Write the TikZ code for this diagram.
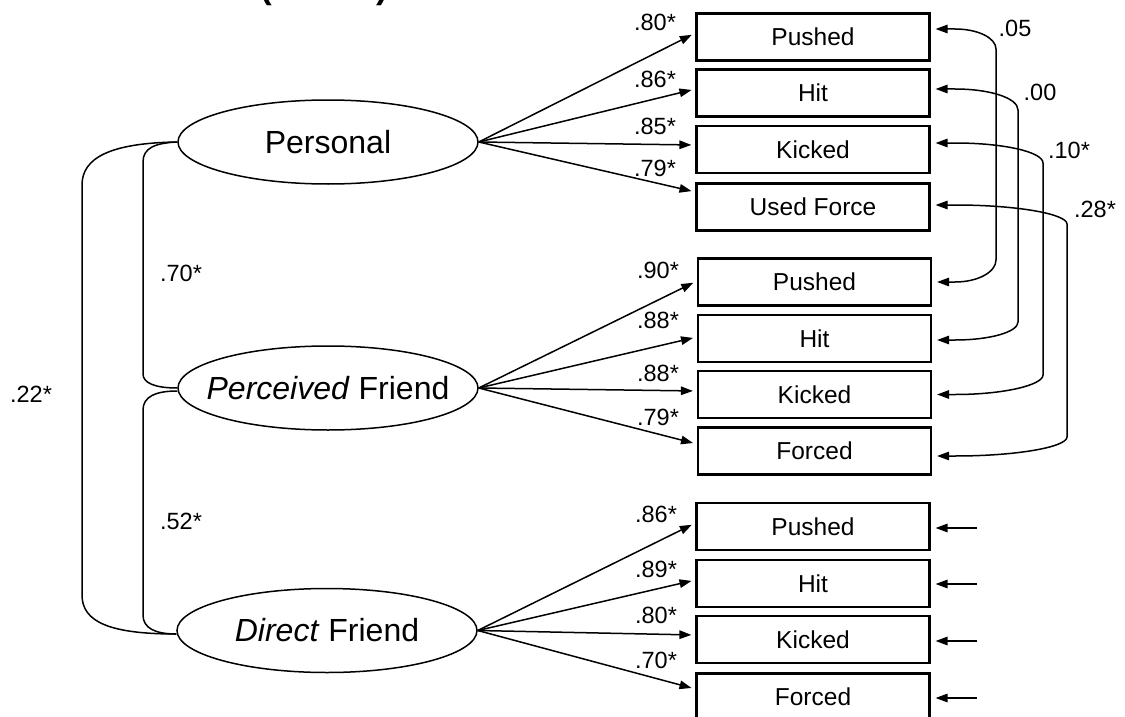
\documentclass[tikz,border=0pt]{standalone}
\usepackage{fontspec}
\setmainfont{Liberation Sans}
\usetikzlibrary{arrows.meta,shapes.geometric,calc}
\begin{document}
\begin{tikzpicture}[x=1pt,y=-1pt,
  lat/.style={ellipse,draw,line width=1.5pt,minimum width=300pt,minimum height=84pt,inner sep=0pt,font=\fontsize{32}{36}\selectfont},
  obs/.style={rectangle,draw,line width=2.2pt,minimum width=233pt,minimum height=47pt,inner sep=0pt,font=\fontsize{24.5}{28}\selectfont},
  lbl/.style={inner sep=0pt,font=\fontsize{23.5}{26}\selectfont},
  arr/.style={line width=1.5pt,-{Triangle[length=12pt,width=8.5pt]},shorten >=4pt},
  cov/.style={line width=1.5pt},
  dcov/.style={line width=1.5pt,{Triangle[length=12pt,width=8.5pt]}-{Triangle[length=12pt,width=8.5pt]},shorten <=5pt,shorten >=5pt},
  ttl/.style={anchor=base east,inner sep=0pt,font=\bfseries\fontsize{35}{40}\selectfont}
]
\useasboundingbox (0,0) rectangle (1125,717);
\clip (0,0) rectangle (1125,717);

\node[ttl] (title) at (388,-1) {Friend's Violence (N=254)};

% latent variables
\node[lat] (per) at (328,142) {\makebox[0pt]{Personal}};
\node[lat] (pf) at (328,388) {\makebox[0pt]{\textit{Perceived} Friend}};
\node[lat] (df) at (327,630.5) {\makebox[0pt]{\textit{Direct} Friend}};

% indicators
\node[obs] (a1) at (813,37) {Pushed};
\node[obs] (a2) at (813,93) {Hit};
\node[obs] (a3) at (813,149.5) {Kicked};
\node[obs] (a4) at (813,207) {Used Force};
\node[obs] (b1) at (814.5,282) {Pushed};
\node[obs] (b2) at (814.5,338.5) {Hit};
\node[obs] (b3) at (814.5,394.5) {Kicked};
\node[obs] (b4) at (814.5,451) {Forced};
\node[obs] (c1) at (813,526.5) {Pushed};
\node[obs] (c2) at (813,583.5) {Hit};
\node[obs] (c3) at (813,639.5) {Kicked};
\node[obs] (c4) at (813,697) {Forced};

% loadings
\draw[arr] (per.east) -- ([yshift=4pt]a1.west);
\draw[arr] (per.east) -- ([yshift=4pt]a2.west);
\draw[arr] (per.east) -- ([yshift=4.5pt]a3.west);
\draw[arr] (per.east) -- ([yshift=15pt]a4.west);
\draw[arr] (pf.east) -- ([yshift=1pt]b1.west);
\draw[arr] (pf.east) -- ([yshift=1.5pt]b2.west);
\draw[arr] (pf.east) -- ([yshift=3.5pt]b3.west);
\draw[arr] (pf.east) -- ([yshift=7pt]b4.west);
\draw[arr] (df.east) -- ([yshift=3.5pt]c1.west);
\draw[arr] (df.east) -- ([yshift=3.5pt]c2.west);
\draw[arr] (df.east) -- ([yshift=4.5pt]c3.west);
\draw[arr] (df.east) -- ([yshift=8pt]c4.west);

\node[lbl] (l1) at (655,22) {.80*};
\node[lbl] (l2) at (655,79) {.86*};
\node[lbl] (l3) at (655,126) {.85*};
\node[lbl] (l4) at (655,168) {.79*};
\node[lbl] (l5) at (658,270) {.90*};
\node[lbl] (l6) at (658,320) {.88*};
\node[lbl] (l7) at (658,373) {.88*};
\node[lbl] (l8) at (658,417) {.79*};
\node[lbl] (l9) at (656,514) {.86*};
\node[lbl] (l10) at (656,569) {.89*};
\node[lbl] (l11) at (656,615) {.80*};
\node[lbl] (l12) at (656,660) {.70*};

% latent covariances
\draw[cov] (per.west) .. controls (155,143) and (143,148) .. (143,162) -- (143,374) .. controls (143,383) and (155,388) .. (pf.west);
\draw[cov] ([yshift=-3pt]pf.west) .. controls (155,391) and (143,397) .. (143,410) -- (143,615) .. controls (143,628) and (155,634) .. ([yshift=-3.5pt]df.west);
\draw[cov] (per.west) .. controls (110,143) and (82,158) .. (82,185) -- (82,595) .. controls (82,622) and (110,634) .. ([yshift=-3.5pt]df.west);
\node[lbl] (r70) at (181,273) {.70*};
\node[lbl] (r52) at (181,521) {.52*};
\node[lbl] (r22) at (31,394) {.22*};

% residual covariances
\draw[dcov] ([yshift=8pt]a1.east) -- (955,29) .. controls (978,29) and (996,38) .. (996,49) -- (996,260) .. controls (996,272) and (978,282) .. (955,282) -- (b1.east);
\draw[dcov] ([yshift=4pt]a2.east) -- (955,89) .. controls (990,89) and (1018,98) .. (1018,110) -- (1018,322) .. controls (1018,332) and (990,340) .. (955,340) -- ([yshift=-1.5pt]b2.east);
\draw[dcov] ([yshift=6.5pt]a3.east) -- (955,143) .. controls (1004,143) and (1043,152) .. (1043,163) -- (1043,375) .. controls (1043,385) and (1004,394.5) .. (955,394.5) -- (b3.east);
\draw[dcov] ([yshift=2pt]a4.east) -- (955,205) .. controls (1017,205) and (1067,214) .. (1067,224) -- (1067,437) .. controls (1067,447) and (1017,456) .. (955,456) -- ([yshift=-5pt]b4.east);
\node[lbl] (r05) at (1015,28) {.05};
\node[lbl] (r00) at (1040,92) {.00};
\node[lbl] (r10) at (1069,150) {.10*};
\node[lbl] (r28) at (1095,209) {.28*};

% error arrows
\coordinate (e1) at (977,528);
\coordinate (e2) at (977,584);
\coordinate (e3) at (977,641);
\coordinate (e4) at (977,698);
\draw[arr,shorten >=5pt] (e1) -- (c1.east |- e1);
\draw[arr,shorten >=5pt] (e2) -- (c2.east |- e2);
\draw[arr,shorten >=5pt] (e3) -- (c3.east |- e3);
\draw[arr,shorten >=5pt] (e4) -- (c4.east |- e4);
\end{tikzpicture}
\end{document}
